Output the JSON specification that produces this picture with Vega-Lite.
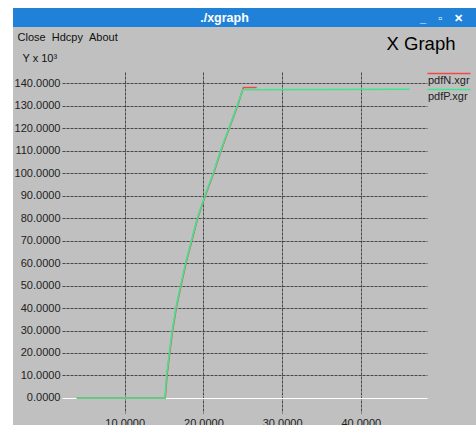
{
  "$schema": "https://vega.github.io/schema/vega-lite/v6.json",
  "background": "#c0c0c0",
  "padding": 0,
  "autosize": {"type": "pad"},
  "config": {"font": "Liberation Sans", "view": {"stroke": null}},
  "spacing": 0,
  "bounds": "flush",
  "vconcat": [
    {
      "width": 476, "height": 8,
      "data": {"values": []},
      "mark": {"type": "point", "opacity": 0},
      "encoding": {},
      "view": {"fill": "#ffffff", "stroke": null}
    },
    {
      "spacing": 0,
      "bounds": "flush",
      "hconcat": [
        {
          "width": 13, "height": 420,
          "data": {"values": []},
          "mark": {"type": "point", "opacity": 0},
          "encoding": {},
          "view": {"fill": "#ffffff", "stroke": null}
        },
        {
          "spacing": 45,
          "bounds": "flush",
          "center": true,
          "resolve": {"scale": {"color": "independent"}, "legend": {"color": "independent"}},
          "vconcat": [
            {
              "width": 463, "height": 19,
              "data": {"values": [{"t": "./xgraph"}]},
              "mark": {"type": "text", "color": "#ffffff", "fontWeight": "bold", "fontSize": 12.5, "dx": -20},
              "encoding": {
                "text": {"field": "t"},
                "x": {
                  "field": "t", "type": "nominal",
                  "axis": {
                    "labels": false, "ticks": false, "domain": false, "grid": false,
                    "title": "X Graph", "titleX": 442, "titleY": 22, "titleAlign": "right", "titleAnchor": null,
                    "titleBaseline": "alphabetic", "titleFontSize": 18.5, "titleFontWeight": "normal", "titleColor": "#000000"
                  }
                },
                "y": {
                  "field": "t", "type": "nominal",
                  "axis": {
                    "labels": false, "ticks": false, "domain": false, "grid": false,
                    "title": "_\u00a0\u00a0\u00a0\u00a0\u25ab\u00a0\u00a0\u00a0\u00a0\u2715", "titleAngle": 0, "titleX": 450, "titleY": 13,
                    "titleAlign": "right", "titleBaseline": "alphabetic", "titleFontSize": 11, "titleFontWeight": "bold", "titleColor": "#ffffff"
                  }
                }
              },
              "view": {"fill": "#1f82d8", "stroke": null}
            },
            {
              "width": 365, "height": 341,
              "data": {"values": [
                {"s": "pdfN.xgr", "x": 3.9, "y": 0},
                {"s": "pdfN.xgr", "x": 15.14, "y": 0},
                {"s": "pdfN.xgr", "x": 15.38, "y": 10.4},
                {"s": "pdfN.xgr", "x": 15.71, "y": 20},
                {"s": "pdfN.xgr", "x": 16.09, "y": 30.2},
                {"s": "pdfN.xgr", "x": 16.56, "y": 40.3},
                {"s": "pdfN.xgr", "x": 17.16, "y": 50.2},
                {"s": "pdfN.xgr", "x": 17.83, "y": 60.6},
                {"s": "pdfN.xgr", "x": 18.55, "y": 70.2},
                {"s": "pdfN.xgr", "x": 19.26, "y": 79.9},
                {"s": "pdfN.xgr", "x": 20.24, "y": 90},
                {"s": "pdfN.xgr", "x": 21.3, "y": 100},
                {"s": "pdfN.xgr", "x": 22.24, "y": 110},
                {"s": "pdfN.xgr", "x": 23.29, "y": 120},
                {"s": "pdfN.xgr", "x": 24.35, "y": 130},
                {"s": "pdfN.xgr", "x": 25.08, "y": 138.0},
                {"s": "pdfN.xgr", "x": 26.77, "y": 138.0},
                {"s": "pdfP.xgr", "x": 3.9, "y": 0},
                {"s": "pdfP.xgr", "x": 15.1, "y": 0},
                {"s": "pdfP.xgr", "x": 15.34, "y": 10.4},
                {"s": "pdfP.xgr", "x": 15.67, "y": 20},
                {"s": "pdfP.xgr", "x": 16.05, "y": 30.2},
                {"s": "pdfP.xgr", "x": 16.52, "y": 40.3},
                {"s": "pdfP.xgr", "x": 17.12, "y": 50.2},
                {"s": "pdfP.xgr", "x": 17.79, "y": 60.6},
                {"s": "pdfP.xgr", "x": 18.51, "y": 70.2},
                {"s": "pdfP.xgr", "x": 19.22, "y": 79.9},
                {"s": "pdfP.xgr", "x": 20.2, "y": 90},
                {"s": "pdfP.xgr", "x": 21.26, "y": 100},
                {"s": "pdfP.xgr", "x": 22.2, "y": 110},
                {"s": "pdfP.xgr", "x": 23.25, "y": 120},
                {"s": "pdfP.xgr", "x": 24.31, "y": 130},
                {"s": "pdfP.xgr", "x": 24.99, "y": 137.0},
                {"s": "pdfP.xgr", "x": 46.2, "y": 137.2}
              ]},
              "mark": {"type": "line", "strokeWidth": 1.6},
              "encoding": {
                "x": {
                  "field": "x", "type": "quantitative",
                  "scale": {"domain": [2.03, 48.41], "nice": false, "zero": false},
                  "axis": {
                    "values": [10, 20, 30, 40], "format": ".4f", "ticks": false, "domain": false,
                    "labelPadding": 4, "labelFontSize": 11, "labelColor": "#222222",
                    "grid": true, "gridColor": "#484848", "gridDash": [3, 1], "gridWidth": 1,
                    "title": "Close\u00a0\u00a0Hdcpy\u00a0\u00a0About",
                    "titleX": -45, "titleY": -373, "titleAlign": "left", "titleBaseline": "alphabetic",
                    "titleFontSize": 11, "titleFontWeight": "normal", "titleColor": "#111111"
                  }
                },
                "y": {
                  "field": "y", "type": "quantitative",
                  "scale": {"domain": [-6.67, 144.9], "nice": false, "zero": false},
                  "axis": {
                    "values": [0, 10, 20, 30, 40, 50, 60, 70, 80, 90, 100, 110, 120, 130, 140],
                    "format": ".4f", "ticks": false, "domain": false,
                    "labelPadding": 2, "labelFontSize": 11, "labelColor": "#222222",
                    "grid": true,
                    "gridColor": {"condition": {"test": "datum.value === 0", "value": "#ffffff"}, "value": "#484848"},
                    "gridDash": {"condition": {"test": "datum.value === 0", "value": []}, "value": [3, 1]},
                    "gridWidth": 1,
                    "title": "Y x 10\u00b3", "titleAngle": 0, "titleX": -40, "titleY": -11,
                    "titleAlign": "left", "titleBaseline": "alphabetic",
                    "titleFontSize": 11, "titleFontWeight": "normal", "titleColor": "#111111"
                  }
                },
                "color": {
                  "field": "s", "type": "nominal",
                  "scale": {"domain": ["pdfN.xgr", "pdfP.xgr"], "range": ["#f04848", "#3ce68c"]},
                  "legend": {
                    "orient": "none", "legendX": 365, "legendY": 3, "title": null, "padding": 0,
                    "labelFontSize": 11, "labelColor": "#222222",
                    "symbolType": "M-2.5,-3.5H19", "symbolSize": 16, "symbolStrokeWidth": 1.6,
                    "labelOffset": -10, "rowPadding": 0
                  }
                }
              }
            }
          ]
        }
      ]
    }
  ]
}
